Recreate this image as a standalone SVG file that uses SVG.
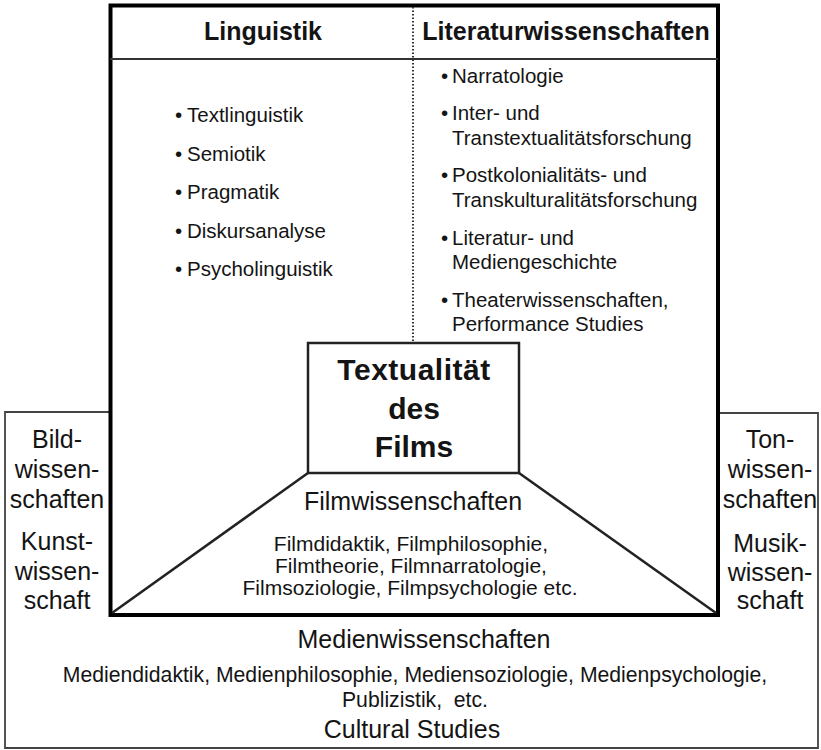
<svg xmlns="http://www.w3.org/2000/svg" width="821" height="750" viewBox="0 0 821 750">
<style>
text{font-family:"Liberation Sans",Arial,sans-serif;fill:#141414}
.b{font-weight:bold}
.h{font-size:25px;font-weight:bold;text-anchor:middle}
.li{font-size:20.5px}
.c{text-anchor:middle}
.side{font-size:25px;text-anchor:middle}
.thick{fill:none;stroke:#000;stroke-width:4}
.thin{fill:none;stroke:#222;stroke-width:2.5}
.frame{fill:none;stroke:#444;stroke-width:1.8}
</style>
<rect width="821" height="750" fill="#fff"/>
<g id="outer-frame">
<path class="frame" d="M110,412 H5 V748 H818 V413 H718"/>
</g>
<g id="main-box">
<rect class="thick" x="110.5" y="5.5" width="607.5" height="609.5"/>
<line x1="110" y1="59" x2="718" y2="59" stroke="#333" stroke-width="2"/>
</g>
<g id="connectors">
<line x1="413" y1="7" x2="413" y2="343" stroke="#333" stroke-width="2" stroke-dasharray="1.5 2"/>
<line class="thin" x1="308" y1="473" x2="112" y2="613"/>
<line class="thin" x1="519" y1="473" x2="716" y2="613"/>
</g>
<g id="linguistik">
<text class="h" x="263" y="40">Linguistik</text>
<g class="li">
<text x="175" y="122"><tspan>•</tspan><tspan x="187">Textlinguistik</tspan></text>
<text x="175" y="161"><tspan>•</tspan><tspan x="187">Semiotik</tspan></text>
<text x="175" y="199"><tspan>•</tspan><tspan x="187">Pragmatik</tspan></text>
<text x="175" y="238"><tspan>•</tspan><tspan x="187">Diskursanalyse</tspan></text>
<text x="175" y="276"><tspan>•</tspan><tspan x="187">Psycholinguistik</tspan></text>
</g>
</g>
<g id="literaturwissenschaften">
<text class="h" x="566" y="40">Literaturwissenschaften</text>
<g class="li">
<text x="441" y="83"><tspan>•</tspan><tspan x="452">Narratologie</tspan></text>
<text x="441" y="120"><tspan>•</tspan><tspan x="452">Inter-  und</tspan></text>
<text x="452" y="145">Transtextualitätsforschung</text>
<text x="441" y="182"><tspan>•</tspan><tspan x="452">Postkolonialitäts-  und</tspan></text>
<text x="452" y="207">Transkulturalitätsforschung</text>
<text x="441" y="245"><tspan>•</tspan><tspan x="452">Literatur-  und</tspan></text>
<text x="452" y="269">Mediengeschichte</text>
<text x="441" y="307"><tspan>•</tspan><tspan x="452">Theaterwissenschaften,</tspan></text>
<text x="452" y="331">Performance Studies</text>
</g>
</g>
<g id="textualitaet">
<rect x="308" y="343" width="211" height="130" fill="#fff" stroke="#222" stroke-width="2.5"/>
<text class="b c" font-size="30" x="414" y="380" letter-spacing="0.5">Textualität</text>
<text class="b c" font-size="30" x="414" y="419">des</text>
<text class="b c" font-size="30" x="414" y="457">Films</text>
</g>
<g id="filmwissenschaften">
<text class="c" font-size="25" x="413" y="510">Filmwissenschaften</text>
<text class="c" font-size="21" x="411" y="551">Filmdidaktik, Filmphilosophie,</text>
<text class="c" font-size="21" x="411" y="573">Filmtheorie, Filmnarratologie,</text>
<text class="c" font-size="21" x="410" y="595">Filmsoziologie, Filmpsychologie etc.</text>
</g>
<g id="bildwissenschaften">
<text class="side" x="57" y="448">Bild-</text>
<text class="side" x="57" y="478">wissen-</text>
<text class="side" x="57" y="508">schaften</text>
<text class="side" x="57" y="550">Kunst-</text>
<text class="side" x="57" y="580">wissen-</text>
<text class="side" x="57" y="609">schaft</text>
</g>
<g id="tonwissenschaften">
<text class="side" x="770" y="448">Ton-</text>
<text class="side" x="770" y="478">wissen-</text>
<text class="side" x="770" y="508">schaften</text>
<text class="side" x="770" y="552">Musik-</text>
<text class="side" x="770" y="581">wissen-</text>
<text class="side" x="770" y="609">schaft</text>
</g>
<g id="medienwissenschaften">
<text class="c" font-size="25" x="424" y="648">Medienwissenschaften</text>
<text class="c" font-size="21.2" x="415" y="682">Mediendidaktik, Medienphilosophie, Mediensoziologie, Medienpsychologie,</text>
<text class="c" font-size="21.2" x="415" y="707" xml:space="preserve">Publizistik,  etc.</text>
<text class="c" font-size="25" x="412" y="738">Cultural Studies</text>
</g>
</svg>
